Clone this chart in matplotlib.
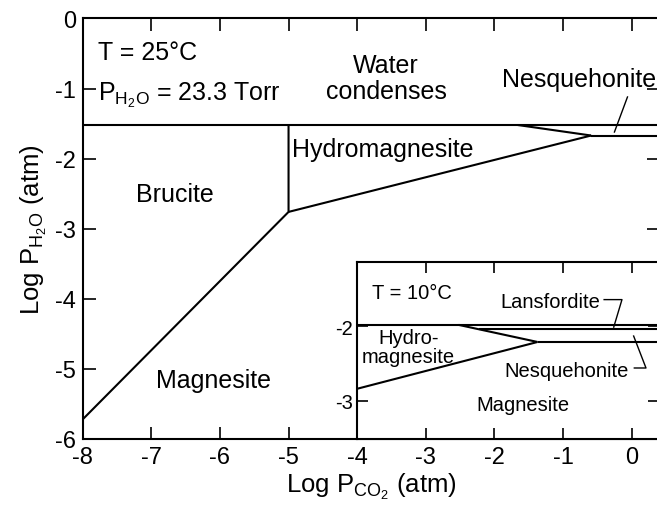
import matplotlib
matplotlib.use("Agg")
import matplotlib.pyplot as plt

plt.rcParams['font.family'] = ['Liberation Sans', 'DejaVu Sans']
plt.rcParams['mathtext.fontset'] = 'custom'
plt.rcParams['mathtext.rm'] = 'Liberation Sans'
plt.rcParams['mathtext.it'] = 'Liberation Sans:italic'

# ---- main diagram (T = 25 C) ----
main_xlim = (-8, 0.4)
main_ylim = (-6, 0)
main_xticks = [-8, -7, -6, -5, -4, -3, -2, -1, 0]
main_yticks = [0, -1, -2, -3, -4, -5, -6]

water_x = [-8, 0.4]
water_y = [-1.52, -1.52]
brucite_x = [-8, -5, -5]
brucite_y = [-5.72, -2.76, -1.52]
hydro_magn_x = [-5, -0.59]
hydro_magn_y = [-2.76, -1.67]
hydro_nesq_x = [-1.66, -0.59]
hydro_nesq_y = [-1.52, -1.67]
nesq_magn_x = [-0.59, 0.4]
nesq_magn_y = [-1.67, -1.67]
nesq_leader_x = [-0.06, -0.25]
nesq_leader_y = [-1.12, -1.62]

# ---- inset (T = 10 C) ----
ins_xlim = (-4, 0.4)
ins_ylim = (-3.515, -1.13)
ins_xticks = [-4, -3, -2, -1, 0]
ins_yticks = [-2, -3]

i_water_x = [-4, 0.4]
i_water_y = [-1.98, -1.98]
i_lans_x = [-2.22, 0.4]
i_lans_y = [-2.04, -2.04]
i_div_x = [-2.52, -1.37]
i_div_y = [-1.98, -2.21]
i_nesq_x = [-1.37, 0.4]
i_nesq_y = [-2.21, -2.21]
i_hm_x = [-4, -1.37]
i_hm_y = [-2.84, -2.21]
i_lans_leader_x = [-0.40, -0.14, -0.26]
i_lans_leader_y = [-1.64, -1.64, -2.01]
i_nesq_leader_x = [0.04, 0.21, 0.03]
i_nesq_leader_y = [-2.56, -2.56, -2.13]

fig = plt.figure(figsize=(6.57, 5.10), dpi=100)
ax = fig.add_axes([0.1259, 0.1373, 0.8772, 0.8245])
lw = 1.5
for xs, ys in [(water_x, water_y), (brucite_x, brucite_y), (hydro_magn_x, hydro_magn_y),
               (hydro_nesq_x, hydro_nesq_y), (nesq_magn_x, nesq_magn_y)]:
    ax.plot(xs, ys, color='black', lw=lw, solid_capstyle='butt')
ax.plot(nesq_leader_x, nesq_leader_y, color='black', lw=1.0)

ax.set_xlim(*main_xlim)
ax.set_ylim(*main_ylim)
ax.set_xticks(main_xticks)
ax.set_yticks(main_yticks)
ax.set_xticklabels([str(v) for v in main_xticks])
ax.set_yticklabels([str(v) for v in main_yticks])
ax.tick_params(direction='in', length=9, width=1.2, labelsize=17, top=True, right=True)
ax.tick_params(axis='x', pad=5)
ax.tick_params(axis='y', pad=5)
for s in ax.spines.values():
    s.set_linewidth(1.5)

ax.set_xlabel(r'Log $\mathrm{P_{CO_2}}$ (atm)', fontsize=18.5, labelpad=2)
ax.set_ylabel(r'Log $\mathrm{P_{H_2O}}$ (atm)', fontsize=18.5, labelpad=4)

fs = 18
ax.text(-7.78, -0.48, 'T = 25°C', fontsize=fs, ha='left', va='center')
ax.text(-7.78, -1.08, r'$\mathrm{P_{H_2O}}$ = 23.3 Torr', fontsize=fs, ha='left', va='center')
ax.text(-3.58, -0.85, 'Water\ncondenses', fontsize=fs, ha='center', va='center', linespacing=1.15)
ax.text(-0.77, -0.86, 'Nesquehonite', fontsize=fs, ha='center', va='center')
ax.text(-3.63, -1.86, 'Hydromagnesite', fontsize=fs, ha='center', va='center')
ax.text(-6.65, -2.5, 'Brucite', fontsize=fs, ha='center', va='center')
ax.text(-6.1, -5.16, 'Magnesite', fontsize=fs, ha='center', va='center')

# inset
ia = fig.add_axes([0.5434, 0.1373, 0.4597, 0.3476])
ia.set_facecolor('white')
ilw = 1.5
for xs, ys in [(i_water_x, i_water_y), (i_lans_x, i_lans_y), (i_div_x, i_div_y),
               (i_nesq_x, i_nesq_y), (i_hm_x, i_hm_y)]:
    ia.plot(xs, ys, color='black', lw=ilw, solid_capstyle='butt')
ia.plot(i_lans_leader_x, i_lans_leader_y, color='black', lw=1.0)
ia.plot(i_nesq_leader_x, i_nesq_leader_y, color='black', lw=1.0)
ia.set_xlim(*ins_xlim)
ia.set_ylim(*ins_ylim)
ia.set_xticks(ins_xticks)
ia.set_yticks(ins_yticks)
ia.set_yticklabels([str(v) for v in ins_yticks])
ia.tick_params(axis='x', labelbottom=False)
ia.tick_params(direction='in', length=8, width=1.2, labelsize=14.5, top=True, right=True, pad=3)
for s in ia.spines.values():
    s.set_linewidth(1.5)

ifs = 14.5
ia.text(-3.78, -1.54, 'T = 10°C', fontsize=ifs, ha='left', va='center')
ia.text(-1.18, -1.66, 'Lansfordite', fontsize=ifs, ha='center', va='center')
ia.text(-3.25, -2.28, 'Hydro-\nmagnesite', fontsize=ifs, ha='center', va='center', linespacing=1.0)
ia.text(-0.95, -2.6, 'Nesquehonite', fontsize=ifs, ha='center', va='center')
ia.text(-1.58, -3.05, 'Magnesite', fontsize=ifs, ha='center', va='center')

fig.savefig('out.png', dpi=100)
